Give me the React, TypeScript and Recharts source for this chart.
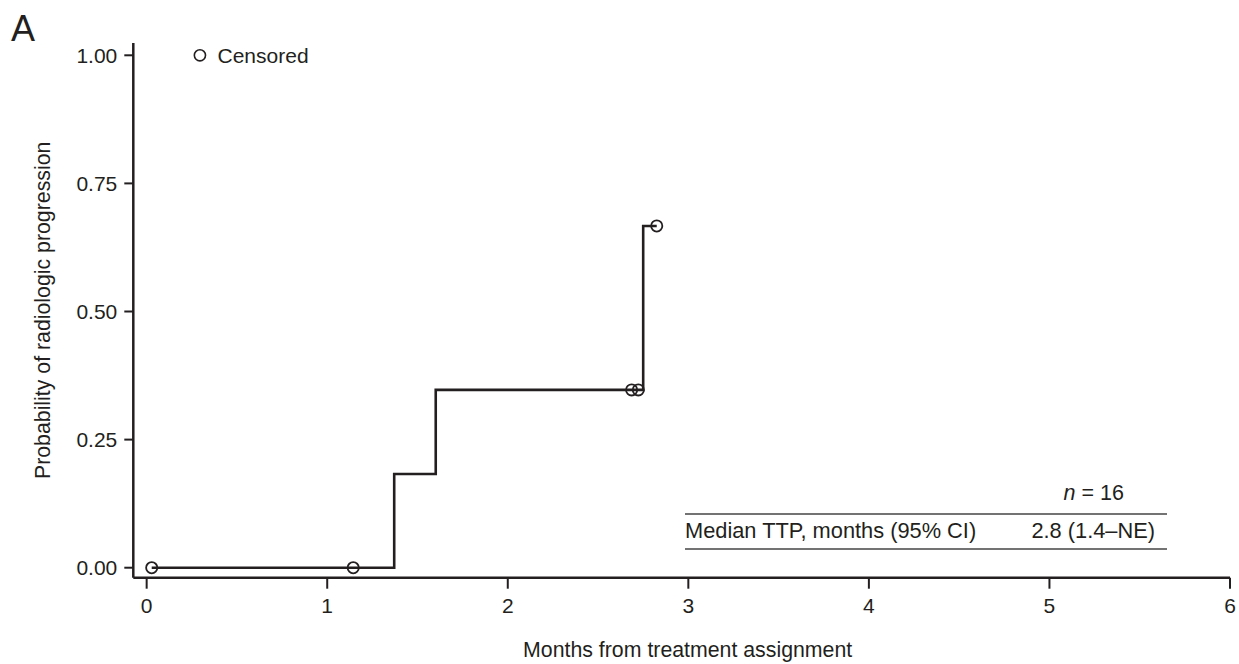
import { ComposedChart, Line, Scatter, XAxis, YAxis, ReferenceDot, Label } from 'recharts'

// step curve: cumulative probability of progression at each time
const stepMonths = [0.028, 1.371, 1.601, 2.75, 2.825]
const stepProb = [0, 0.183, 0.347, 0.667, 0.667]

// censored observations
const censorMonths = [0.028, 1.144, 2.686, 2.723, 2.825]
const censorProb = [0, 0, 0.347, 0.347, 0.667]

const xTicks = [0, 1, 2, 3, 4, 5, 6]
const yTicks = [0, 0.25, 0.5, 0.75, 1]

const stepData = stepMonths.map((x, i) => ({ x, y: stepProb[i] }))
const censorData = censorMonths.map((x, i) => ({ x, y: censorProb[i] }))

const FONT = '"Liberation Sans", Arial, sans-serif'
const INK = '#231f20'

const CensorMark = (props: any) => (
  <circle cx={props.cx} cy={props.cy} r={5.6} fill="none" stroke={INK} strokeWidth={1.8} />
)

const YTitle = (props: any) => {
  const vb = props.viewBox || { x: 0, y: 0, height: 0 }
  const cx = vb.x + 43
  const cy = vb.y + vb.height / 2
  return (
    <text
      x={cx}
      y={cy}
      transform={`rotate(-90, ${cx}, ${cy})`}
      textAnchor="middle"
      dominantBaseline="central"
      fontSize={21.3}
      fontFamily={FONT}
      fill={INK}
    >
      Probability of radiologic progression
    </text>
  )
}

export default function App() {
  return (
    <div style={{ position: 'absolute', left: 0, top: 0, width: 1239, height: 664, background: '#fff' }}>
      <ComposedChart
        width={1239}
        height={664}
        margin={{ top: 43, right: 9, bottom: 0, left: 0 }}
      >
        <XAxis
          type="number"
          dataKey="x"
          domain={[-0.074, 6]}
          ticks={xTicks}
          height={86.3}
          tickSize={11}
          tickMargin={9}
          axisLine={{ stroke: INK, strokeWidth: 2.5 }}
          tickLine={{ stroke: INK, strokeWidth: 2 }}
          tick={{ fill: INK, fontSize: 21, fontFamily: FONT }}
        >
          <Label
            value="Months from treatment assignment"
            position="insideBottom"
            offset={7}
            dx={6}
            fontSize={21.3}
            fontFamily={FONT}
            fill={INK}
          />
        </XAxis>
        <YAxis
          type="number"
          dataKey="y"
          domain={[-0.0195, 1.024]}
          ticks={yTicks}
          width={133.3}
          tickSize={9}
          tickMargin={7}
          tickFormatter={(v: number) => v.toFixed(2)}
          axisLine={{ stroke: INK, strokeWidth: 2.5 }}
          tickLine={{ stroke: INK, strokeWidth: 2 }}
          tick={{ fill: INK, fontSize: 21, fontFamily: FONT }}
        >
          <Label content={YTitle} />
        </YAxis>
        <Line
          data={stepData}
          dataKey="y"
          type="stepAfter"
          stroke={INK}
          strokeWidth={2.6}
          dot={false}
          isAnimationActive={false}
        />
        <Scatter data={censorData} dataKey="y" shape={CensorMark} isAnimationActive={false} />
        <ReferenceDot
          x={0.295}
          y={1}
          r={5.6}
          fill="none"
          stroke={INK}
          strokeWidth={1.6}
          label={{ value: 'Censored', position: 'right', offset: 12, fontSize: 21, fontFamily: FONT, fill: INK }}
        />
      </ComposedChart>
      <svg
        width={1239}
        height={664}
        style={{ position: 'absolute', left: 0, top: 0, pointerEvents: 'none' }}
        fontFamily={FONT}
        fill={INK}
      >
        <text x={11} y={41} fontSize={36}>A</text>
        <text x={1124} y={500} fontSize={21.5} textAnchor="end">
          <tspan fontStyle="italic">n</tspan> = 16
        </text>
        <line x1={685} x2={1167} y1={514} y2={514} stroke="#444" strokeWidth={1.5} />
        <text x={685} y={538} fontSize={21.8}>Median TTP, months (95% CI)</text>
        <text x={1155} y={538} fontSize={21.8} textAnchor="end">2.8 (1.4–NE)</text>
        <line x1={685} x2={1167} y1={549} y2={549} stroke="#444" strokeWidth={1.5} />
      </svg>
    </div>
  )
}
